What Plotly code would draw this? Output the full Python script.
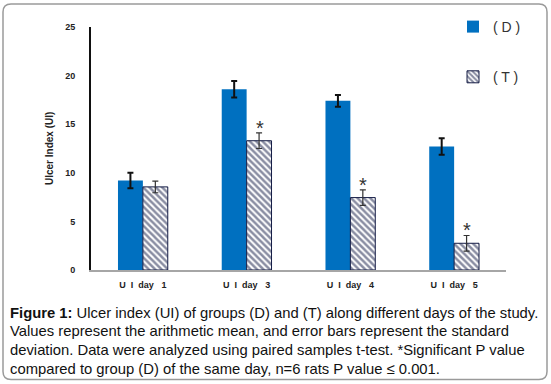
import plotly.graph_objects as go

categories = ["U  I  day   1", "U  I  day   3", "U  I  day   4", "U  I  day   5"]
d_values = [9.2, 18.6, 17.4, 12.7]
d_errors = [0.8, 0.85, 0.6, 0.85]
t_values = [8.55, 13.3, 7.45, 2.75]
t_errors = [0.6, 0.8, 0.8, 0.8]
significant = [False, True, True, True]
y_ticks = [0, 5, 10, 15, 20, 25]

cats = [c.replace(" ", "\u00a0") for c in categories]

W, H = 551, 384
L, R, T, B = 91, 506, 26, 270

def px(x):
    return (x - L) / (R - L)

def py(y):
    return (B - y) / (B - T)

FONT = "Liberation Sans, Arial, sans-serif"

fig = go.Figure()
fig.add_trace(go.Bar(
    x=cats, y=d_values, name="( D )",
    marker=dict(color="#0070C0", line=dict(width=0)),
    error_y=dict(type="data", array=d_errors, color="#111111", thickness=2, width=3),
    legendgroup="d",
))
fig.add_trace(go.Bar(
    x=cats, y=t_values, name="( T )",
    marker=dict(color="white", line=dict(color="#141c45", width=1),
                pattern=dict(shape="\\", fgcolor="#141c45", bgcolor="white", size=4.5, solidity=0.55)),
    error_y=dict(type="data", array=t_errors, color="#333333", thickness=1.2, width=3),
    legendgroup="t",
))

annotations = []
for c, v, e, s in zip(cats, t_values, t_errors, significant):
    if s:
        annotations.append(dict(x=c, y=v + e, xref="x", yref="y", text="*", showarrow=False,
                                xshift=13, yshift=5, font=dict(family=FONT, size=20, color="#333333")))

annotations.append(dict(x=px(42), y=py(148), xref="paper", yref="paper", text="Ulcer Index (UI)",
                        textangle=-90, showarrow=False,
                        font=dict(family=FONT, size=10, color="#222222", weight="bold")))

caption = [
    "<b>Figure 1:</b> Ulcer index (UI) of groups (D) and (T) along different days of the study.",
    "Values represent the arithmetic mean, and error bars represent the standard",
    "deviation. Data were analyzed using paired samples t-test. *Significant P value",
    "compared to group (D) of the same day, n=6 rats P value \u2264 0.001.",
]
for i, line in enumerate(caption):
    annotations.append(dict(x=px(8), y=py(313 + i * 18.7), xref="paper", yref="paper", text=line,
                            xanchor="left", yanchor="middle", showarrow=False,
                            font=dict(family=FONT, size=14.8, color="#111111")))

# rounded border
x0, x1, y0, y1, r = 3, 547, 3, 380, 8
path = (f"M {px(x0 + r)},{py(y0)} L {px(x1 - r)},{py(y0)} Q {px(x1)},{py(y0)} {px(x1)},{py(y0 + r)} "
        f"L {px(x1)},{py(y1 - r)} Q {px(x1)},{py(y1)} {px(x1 - r)},{py(y1)} "
        f"L {px(x0 + r)},{py(y1)} Q {px(x0)},{py(y1)} {px(x0)},{py(y1 - r)} "
        f"L {px(x0)},{py(y0 + r)} Q {px(x0)},{py(y0)} {px(x0 + r)},{py(y0)} Z")

fig.update_layout(
    width=W, height=H,
    margin=dict(l=L, r=W - R, t=T, b=H - B, pad=0),
    paper_bgcolor="white", plot_bgcolor="white",
    barmode="group", bargap=0.52, bargroupgap=0,
    showlegend=True,
    legend=dict(x=px(453), y=py(11), xanchor="left", yanchor="top",
                font=dict(family=FONT, size=14, color="#333333"),
                tracegroupgap=29, traceorder="grouped", bgcolor="rgba(0,0,0,0)"),
    annotations=annotations,
    shapes=[dict(type="path", path=path, xref="paper", yref="paper",
                 line=dict(color="#9a9a9a", width=1.5), fillcolor="rgba(0,0,0,0)", layer="below")],
    xaxis=dict(showline=True, linecolor="#a6a6a6", linewidth=1.5, ticks="", showgrid=False,
               tickfont=dict(family=FONT, size=9, color="#222222", weight="bold"), ticklabelstandoff=5),
    yaxis=dict(range=[0, 25], tickvals=y_ticks, showline=True, linecolor="#111111", linewidth=2,
               ticks="", showgrid=False, zeroline=False, ticklabelstandoff=12,
               tickfont=dict(family=FONT, size=9, color="#222222", weight="bold")),
)

fig.write_html("out.html", config={"displayModeBar": False},
               post_script="document.body.style.margin='0';document.body.style.overflow='hidden';")
